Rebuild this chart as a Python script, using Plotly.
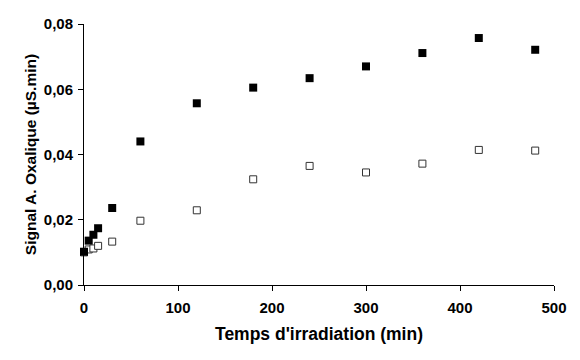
import plotly.graph_objects as go

time_filled = [0, 5, 10, 15, 30, 60, 120, 180, 240, 300, 360, 420, 480]
signal_filled = [0.0102, 0.0136, 0.0154, 0.0174, 0.0236, 0.0440, 0.0557, 0.0605, 0.0634, 0.0670, 0.0711, 0.0757, 0.0721]

time_open = [0, 5, 10, 15, 30, 60, 120, 180, 240, 300, 360, 420, 480]
signal_open = [0.0100, 0.0109, 0.0112, 0.0120, 0.0133, 0.0197, 0.0229, 0.0324, 0.0365, 0.0345, 0.0372, 0.0414, 0.0412]

x_ticks = [0, 100, 200, 300, 400, 500]
y_ticks = [0.0, 0.02, 0.04, 0.06, 0.08]

fig = go.Figure()
fig.add_trace(go.Scatter(
    x=time_open, y=signal_open, mode="markers",
    marker=dict(symbol="square", size=7, color="white",
                line=dict(color="#333333", width=1)),
    showlegend=False, cliponaxis=False))
fig.add_trace(go.Scatter(
    x=time_filled, y=signal_filled, mode="markers",
    marker=dict(symbol="square", size=8, color="black",
                line=dict(color="black", width=0)),
    showlegend=False, cliponaxis=False))

font_family = "Liberation Sans, Arial, sans-serif"
fig.update_layout(
    width=572, height=352,
    margin=dict(l=76, r=26, t=16, b=75),
    paper_bgcolor="white", plot_bgcolor="white",
    separators=",.",
    font=dict(family=font_family, color="black"),
    xaxis=dict(
        range=[0, 500], tickvals=x_ticks, showgrid=False, zeroline=False,
        showline=True, linecolor="black", linewidth=1, automargin=False,
        ticks="outside", ticklen=5, tickcolor="black", ticklabelstandoff=4,
        tickfont=dict(size=15, weight="bold", family=font_family),
        title=dict(text="Temps d'irradiation (min)",
                   font=dict(size=17.5, weight="bold", family=font_family),
                   standoff=12),
    ),
    yaxis=dict(
        range=[0, 0.08], tickvals=y_ticks, tickformat=".2f",
        showgrid=False, zeroline=False, automargin=False,
        showline=True, linecolor="black", linewidth=1,
        ticks="outside", ticklen=5, tickcolor="black", ticklabelstandoff=2,
        tickfont=dict(size=15, weight="bold", family=font_family),
        title=dict(text="Signal A. Oxalique (µS.min)",
                   font=dict(size=15.5, weight="bold", family=font_family),
                   standoff=3),
    ),
)

fig.write_html("out.html")
